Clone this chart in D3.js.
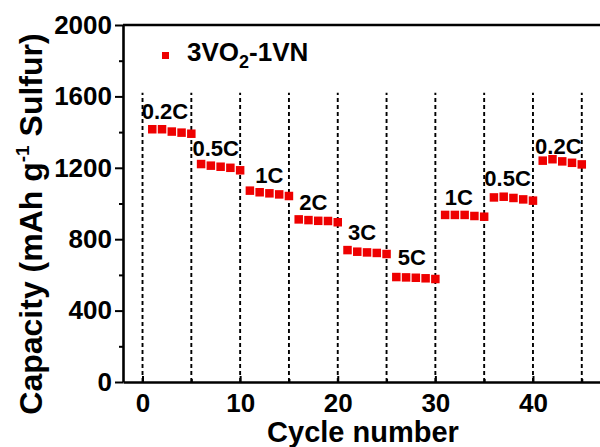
<!DOCTYPE html>
<html>
<head>
<meta charset="utf-8">
<script src="https://cdn.jsdelivr.net/npm/d3@7"></script>
<style>
  body { margin: 0; background: #fff; }
  text { font-family: Arial, "Liberation Sans", sans-serif; font-weight: bold; fill: #000; }
</style>
</head>
<body>
<div id="chart"></div>
<script>
var svgWidth = 600;
var svgHeight = 447;

// cycle numbers and discharge capacity (mAh g-1 sulfur)
var cycles = [1, 2, 3, 4, 5, 6, 7, 8, 9, 10, 11, 12, 13, 14, 15,
  16, 17, 18, 19, 20, 21, 22, 23, 24, 25, 26, 27, 28, 29, 30,
  31, 32, 33, 34, 35, 36, 37, 38, 39, 40, 41, 42, 43, 44, 45];
var capacity = [1416, 1416, 1403, 1397, 1391,
  1221, 1212, 1206, 1200, 1186,
  1072, 1063, 1057, 1051, 1042,
  911, 907, 903, 902, 895,
  739, 730, 726, 723, 717,
  588, 586, 584, 581, 577,
  936, 936, 936, 930, 926,
  1034, 1038, 1031, 1023, 1016,
  1240, 1248, 1236, 1228, 1219];

// C-rate labels, anchored in data units (cycle, capacity)
var rateLabels = ["0.2C", "0.5C", "1C", "2C", "3C", "5C", "1C", "0.5C", "0.2C"];
var labelCycle = [2.3, 7.5, 13, 17.5, 22.5, 27.6, 32.4, 37.4, 42.6];
var labelCap = [1473, 1266, 1115, 963, 795, 655, 991, 1098, 1277];

var separators = [0, 5, 10, 15, 20, 25, 30, 35, 40, 45];
var separatorTop = 1620;

var yTicks = [0, 400, 800, 1200, 1600, 2000];
var yMinor = [200, 600, 1000, 1400, 1800];
var xTicks = [0, 10, 20, 30, 40];
var xMinor = [5, 15, 25, 35, 45];

var plotLeft = 123, plotTop = 25, plotBottom = 382;

var svg = d3.select("#chart")
  .append("svg")
  .attr("width", svgWidth)
  .attr("height", svgHeight);

var x = d3.scaleLinear().domain([-2, 47]).range([plotLeft, 601.3]);
var y = d3.scaleLinear().domain([0, 2000]).range([plotBottom, plotTop]);

var red = "#ee0000";

// dashed separators between rate steps
svg.append("g")
  .selectAll("line")
  .data(separators)
  .enter()
  .append("line")
  .attr("x1", d => x(d))
  .attr("x2", d => x(d))
  .attr("y1", y(0))
  .attr("y2", y(separatorTop))
  .attr("stroke", "#000")
  .attr("stroke-width", 1.9)
  .attr("stroke-dasharray", "4,3");

// y axis
svg.append("g")
  .attr("transform", `translate(${plotLeft},0)`)
  .call(d3.axisLeft(y).tickValues(yTicks).tickFormat(d3.format("d"))
    .tickSize(8).tickPadding(3).tickSizeOuter(0));
svg.append("g")
  .attr("transform", `translate(${plotLeft},0)`)
  .call(d3.axisLeft(y).tickValues(yMinor).tickSize(4).tickFormat(""))
  .select(".domain").remove();

// x axis, ticks pointing inward
svg.append("g")
  .attr("transform", `translate(0,${plotBottom})`)
  .call(d3.axisBottom(x).tickValues(xTicks).tickFormat(d3.format("d"))
    .tickSize(-6).tickPadding(12).tickSizeOuter(0));
svg.append("g")
  .attr("transform", `translate(0,${plotBottom})`)
  .call(d3.axisBottom(x).tickValues(xMinor).tickSize(-3).tickFormat(""))
  .select(".domain").remove();

svg.selectAll(".domain").attr("stroke", "#000").attr("stroke-width", 2.6);
svg.selectAll(".tick line").attr("stroke", "#000").attr("stroke-width", 2);
svg.selectAll(".tick text").style("font-size", "26px").attr("fill", "#000");

// top frame line
svg.append("line")
  .attr("x1", plotLeft).attr("x2", svgWidth)
  .attr("y1", plotTop).attr("y2", plotTop)
  .attr("stroke", "#000").attr("stroke-width", 2.6);

// data squares
var size = 8.5;
svg.append("g")
  .selectAll("rect")
  .data(cycles)
  .enter()
  .append("rect")
  .attr("x", (d, i) => x(d) - size / 2)
  .attr("y", (d, i) => y(capacity[i]) - size / 2)
  .attr("width", size)
  .attr("height", size)
  .attr("fill", red);

// rate labels
svg.append("g")
  .selectAll("text")
  .data(rateLabels)
  .enter()
  .append("text")
  .attr("x", (d, i) => x(labelCycle[i]))
  .attr("y", (d, i) => y(labelCap[i]))
  .attr("text-anchor", "middle")
  .style("font-size", "22px")
  .text(d => d);

// legend
svg.append("rect")
  .attr("x", 162).attr("y", 52)
  .attr("width", 7).attr("height", 7)
  .attr("fill", red);
var leg = svg.append("text")
  .attr("x", 187).attr("y", 61)
  .style("font-size", "26px");
leg.append("tspan").text("3VO");
leg.append("tspan").attr("dy", 7).style("font-size", "18px").text("2");
leg.append("tspan").attr("dy", -7).text("-1VN");

// axis titles
svg.append("text")
  .attr("x", 363)
  .attr("y", 442)
  .attr("text-anchor", "middle")
  .style("font-size", "29px")
  .text("Cycle number");

var yt = svg.append("text")
  .attr("transform", "translate(42,224) rotate(-90)")
  .attr("text-anchor", "middle")
  .style("font-size", "32px");
yt.append("tspan").text("Capacity (mAh g");
yt.append("tspan").attr("dy", -13).style("font-size", "19px").text("-1");
yt.append("tspan").attr("dy", 13).text(" Sulfur)");
</script>
</body>
</html>
